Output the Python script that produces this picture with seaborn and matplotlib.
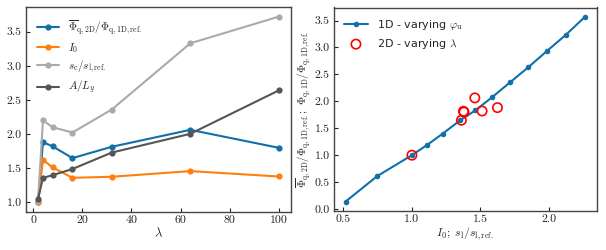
import matplotlib
matplotlib.use("Agg")
import matplotlib.pyplot as plt
import seaborn as sns
import numpy as np
import pandas as pd
from matplotlib.ticker import FuncFormatter

# ---- data ----
lam = [2, 4, 8, 16, 32, 64, 100]
phi_ratio = [1.0, 1.883, 1.82, 1.649, 1.815, 2.063, 1.80]
I0 = [1.0, 1.624, 1.512, 1.361, 1.376, 1.459, 1.38]
sc_sl = [1.02, 2.20, 2.10, 2.024, 2.36, 3.33, 3.72]
A_Ly = [1.05, 1.36, 1.40, 1.49, 1.73, 2.005, 2.64]

sl_1d = [0.517, 0.746, 1.0, 1.111, 1.225, 1.353, 1.462, 1.587, 1.715, 1.848, 1.983, 2.121, 2.263]
phi_1d = [0.14, 0.61, 1.0, 1.19, 1.40, 1.65, 1.83, 2.08, 2.35, 2.63, 2.93, 3.23, 3.57]

labels_left = [r"$\overline{\Phi}_{\rm q,2D}/\Phi_{\rm q,1D,ref.}$", r"$I_0$",
               r"$s_{\rm c}/s_{\rm l,ref.}$", r"$A/L_y$"]
colors_left = ["#1170aa", "#ff7f0e", "#aaaaaa", "#555555"]

sns.set_style("ticks")
plt.rcParams["mathtext.fontset"] = "cm"
plt.rcParams["font.family"] = ["DejaVu Sans"]
plt.rcParams["axes.unicode_minus"] = False

fig = plt.figure(figsize=(6.06, 2.5), dpi=100)
ax1 = fig.add_axes([0.0429, 0.153, 0.437, 0.8176])
ax2 = fig.add_axes([0.5507, 0.157, 0.4345, 0.813])

for ys, lab, c in zip([phi_ratio, I0, sc_sl, A_Ly], labels_left, colors_left):
    sns.lineplot(x=lam, y=ys, ax=ax1, color=c, marker="o", markersize=4.5,
                 markeredgewidth=0, linewidth=1.5, label=lab)
ax1.set_xlabel(r"$\lambda$", fontsize=9, labelpad=1)
ax1.set_ylabel("")
ax1.legend(loc="upper left", frameon=False, fontsize=8, handlelength=2.0,
           borderaxespad=0.6, labelspacing=0.35)

sns.lineplot(x=sl_1d, y=phi_1d, ax=ax2, color="#1170aa", marker="o", markersize=4,
             markeredgewidth=0, linewidth=1.5, label=r"1D - varying $\varphi_{\rm u}$")
sns.scatterplot(x=I0, y=phi_ratio, ax=ax2, marker="o", s=45, facecolor="none",
                edgecolor="red", linewidth=1.2, label=r"2D - varying $\lambda$", zorder=3)
ax2.set_xlabel(r"$I_0;\ s_{\rm l}/s_{\rm l,ref.}$", fontsize=8.5, labelpad=1)
ax2.set_ylabel(r"$\overline{\Phi}_{\rm q,2D}/\Phi_{\rm q,1D,ref.};\ \Phi_{\rm q,1D}/\Phi_{\rm q,1D,ref.}$",
               fontsize=8, labelpad=1)
ax2.legend(loc="upper left", frameon=False, fontsize=8, handlelength=2.2, borderaxespad=0.5)

ax1.set_xticks([0, 20, 40, 60, 80, 100])
ax1.set_yticks([1.0, 1.5, 2.0, 2.5, 3.0, 3.5])
ax2.set_xticks([0.5, 1.0, 1.5, 2.0])
ax2.set_yticks([0.0, 0.5, 1.0, 1.5, 2.0, 2.5, 3.0, 3.5])

fmt_int = FuncFormatter(lambda v, p: "%d" % round(v))
fmt_1 = FuncFormatter(lambda v, p: "%.1f" % v)
ax1.xaxis.set_major_formatter(fmt_int)
ax1.yaxis.set_major_formatter(fmt_1)
ax2.xaxis.set_major_formatter(fmt_1)
ax2.yaxis.set_major_formatter(fmt_1)

for ax in (ax1, ax2):
    ax.tick_params(direction="in", length=3, width=0.8, labelsize=8.5, colors="#222222", pad=3)
    for lbl in ax.get_xticklabels() + ax.get_yticklabels():
        lbl.set_fontfamily("cmr10")
    for s in ax.spines.values():
        s.set_visible(True)
        s.set_color("#444444")
        s.set_linewidth(1.0)

fig.savefig("out.png", dpi=100)
